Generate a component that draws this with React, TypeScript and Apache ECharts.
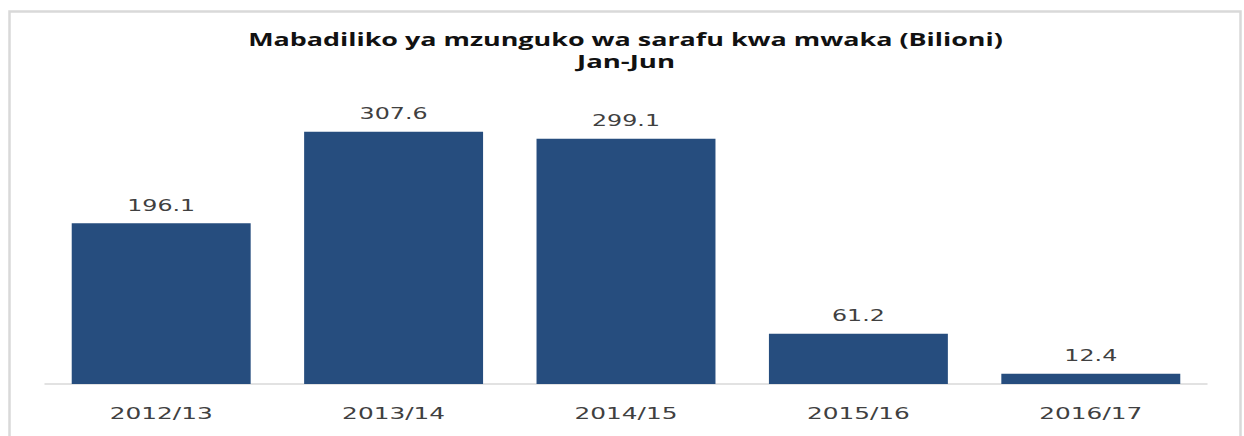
import React, { useEffect, useRef } from "react";
import * as echarts from "echarts";

const categories = ["2012/13", "2013/14", "2014/15", "2015/16", "2016/17"];
const values = [196.1, 307.6, 299.1, 61.2, 12.4];
const titleLines = ["Mabadiliko ya mzunguko wa sarafu kwa mwaka (Bilioni)", "Jan-Jun"];

const TITLE_FONT = "bold 18px 'Open Sans'";
const LABEL_FONT = "16px 'DejaVu Sans'";

function measure(text: string, font: string): number {
  const c = document.createElement("canvas");
  const ctx = c.getContext("2d");
  if (!ctx) return text.length * 9;
  ctx.font = font;
  return ctx.measureText(text).width;
}

export default function App() {
  const ref = useRef<HTMLDivElement>(null);

  useEffect(() => {
    document.body.style.margin = "0";
    if (!ref.current) return;
    const chart = echarts.init(ref.current, undefined, { renderer: "svg" });

    const titleScale = 755 / measure(titleLines[0], TITLE_FONT);
    const subScale = 98 / measure(titleLines[1], TITLE_FONT);
    const valueScale = 68 / measure("196.1", LABEL_FONT);
    const catScale = 103 / measure("2012/13", LABEL_FONT);

    const renderItem = (params: any, api: any) => {
      const idx = api.value(0);
      const v = api.value(1);
      const top = api.coord([idx, v]);
      const base = api.coord([idx, 0]);
      return {
        type: "group",
        children: [
          {
            type: "text",
            x: top[0],
            y: top[1] - 18,
            scaleX: valueScale,
            style: {
              text: Number(v).toFixed(1),
              font: LABEL_FONT,
              fill: "#404040",
              align: "center",
              verticalAlign: "middle",
            },
          },
          {
            type: "text",
            x: base[0],
            y: base[1] + 30,
            scaleX: catScale,
            style: {
              text: categories[idx],
              font: LABEL_FONT,
              fill: "#404040",
              align: "center",
              verticalAlign: "middle",
            },
          },
        ],
      };
    };

    chart.setOption({
      animation: false,
      grid: { left: 45, right: 37, top: 97, bottom: 52 },
      xAxis: {
        type: "category",
        data: categories,
        axisLine: { lineStyle: { color: "#d9d9d9", width: 1.5 } },
        axisTick: { show: false },
        axisLabel: { show: false },
      },
      yAxis: {
        type: "value",
        min: 0,
        max: 350,
        show: false,
        splitLine: { show: false },
      },
      series: [
        {
          type: "bar",
          data: values,
          barCategoryGap: "23%",
          itemStyle: { color: "#264D7E" },
          silent: true,
        },
        {
          type: "custom",
          data: values.map((v, i) => [i, v]),
          clip: false,
          renderItem,
          z: 3,
          silent: true,
        },
      ],
      graphic: [
        {
          type: "rect",
          shape: { x: 9.5, y: 11.5, width: 1231, height: 440 },
          style: { fill: "none", stroke: "#d9d9d9", lineWidth: 2.5 },
          silent: true,
        },
        {
          type: "text",
          x: 625.5,
          y: 39,
          scaleX: titleScale,
          style: {
            text: titleLines[0],
            font: TITLE_FONT,
            fill: "#111111",
            align: "center",
            verticalAlign: "middle",
          },
        },
        {
          type: "text",
          x: 626,
          y: 61,
          scaleX: subScale,
          style: {
            text: titleLines[1],
            font: TITLE_FONT,
            fill: "#111111",
            align: "center",
            verticalAlign: "middle",
          },
        },
      ],
    });

    return () => {
      chart.dispose();
    };
  }, []);

  return <div ref={ref} style={{ width: 1244, height: 436 }} />;
}
